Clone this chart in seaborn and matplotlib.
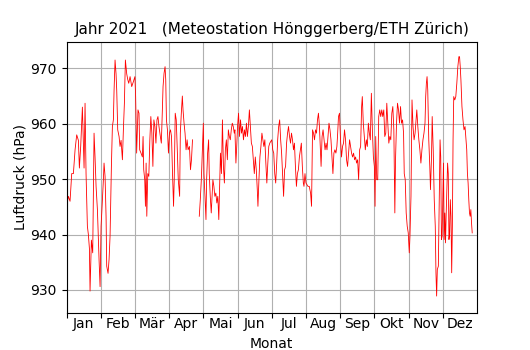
import numpy as np
import pandas as pd
import matplotlib
matplotlib.use("Agg")
import matplotlib.pyplot as plt
import seaborn as sns

# Month labels (x axis: fractional month position, 0 = 1 Jan, 12 = end of Dec)
monate = ["Jan", "Feb", "Mär", "Apr", "Mai", "Jun", "Jul", "Aug", "Sep", "Okt", "Nov", "Dez"]
y_ticks = [930, 940, 950, 960, 970]

# Segment A: 1 Jan - ca. 11 Apr
monat_a = [0.0, 0.055, 0.103, 0.152, 0.201, 0.250, 0.298, 0.347, 0.376, 0.415,
           0.464, 0.513, 0.542, 0.571, 0.610, 0.639, 0.669, 0.688, 0.727, 0.766,
           0.805, 0.834, 0.864, 0.903, 0.922, 0.951, 0.981, 1.010, 1.039, 1.078,
           1.097, 1.127, 1.156, 1.175, 1.214, 1.244, 1.273, 1.312, 1.341, 1.370,
           1.390, 1.419, 1.448, 1.468, 1.497, 1.536, 1.565, 1.595, 1.634, 1.663,
           1.692, 1.721, 1.760, 1.789, 1.819, 1.858, 1.906, 1.955,
           2.000, 2.020, 2.050, 2.089, 2.119, 2.139, 2.178, 2.218, 2.238, 2.257,
           2.287, 2.307, 2.327, 2.347, 2.376, 2.406, 2.436, 2.465, 2.495, 2.525,
           2.554, 2.584, 2.614, 2.644, 2.673, 2.703, 2.743, 2.772, 2.802, 2.822,
           2.851, 2.881, 2.901, 2.921, 2.950, 2.980, 3.010, 3.040, 3.069, 3.099,
           3.129, 3.149, 3.178, 3.208, 3.238, 3.267, 3.307, 3.327, 3.356, 3.386,
           3.406, 3.436, 3.465, 3.495, 3.525, 3.554, 3.594, 3.624, 3.653, 3.683]
druck_a = [945.1, 946.9, 946.0, 951.0, 951.0, 955.3, 958.0, 957.0, 952.0, 956.0,
           963.0, 952.0, 963.7, 951.0, 941.5, 940.0, 937.5, 929.8, 939.0, 936.7,
           958.3, 954.0, 948.7, 944.5, 941.0, 935.5, 930.6, 941.5, 945.0, 949.9,
           952.9, 950.5, 943.3, 934.3, 933.0, 935.5, 939.7, 952.3, 959.5, 960.7,
           966.0, 971.5, 969.0, 966.0, 958.9, 957.7, 955.9, 957.0, 953.5, 959.0,
           963.7, 971.5, 969.0, 968.0, 967.3, 968.5, 966.7, 967.6,
           968.5, 965.0, 954.7, 962.5, 961.9, 955.3, 954.7, 954.0, 957.7, 951.7,
           949.9, 945.1, 952.9, 943.3, 951.0, 950.5, 957.1, 961.3, 958.3, 952.3,
           960.7, 959.5, 956.5, 960.7, 961.3, 959.5, 957.7, 956.5, 962.5, 966.7,
           969.1, 970.3, 967.9, 960.7, 958.9, 954.7, 958.3, 958.9, 957.7, 951.0,
           945.1, 949.9, 961.9, 960.7, 955.3, 949.9, 946.9, 958.3, 961.9, 965.0,
           962.5, 960.1, 958.3, 955.3, 957.1, 955.3, 955.9, 951.7, 953.5, 957.1]

# Segment B: ca. 27 Apr - 27 Dez
monat_b = [3.881, 3.911, 3.941,
           4.000, 4.019, 4.048, 4.077, 4.096, 4.125, 4.154, 4.173, 4.202, 4.231,
           4.250, 4.279, 4.308, 4.337, 4.365, 4.394, 4.423, 4.452, 4.471, 4.500,
           4.529, 4.558, 4.587, 4.615, 4.644, 4.673, 4.702, 4.731, 4.760, 4.788,
           4.817, 4.846, 4.875, 4.904, 4.923, 4.952, 4.971, 5.000, 5.029, 5.058,
           5.087, 5.115, 5.144, 5.173, 5.202, 5.231, 5.260, 5.288, 5.317, 5.346,
           5.375, 5.404, 5.433, 5.462, 5.490, 5.519, 5.548, 5.577, 5.596, 5.625,
           5.654, 5.683, 5.712, 5.740, 5.769, 5.798, 5.827, 5.856, 5.885, 5.913,
           5.942,
           6.000, 6.029, 6.058, 6.087, 6.115, 6.144, 6.173, 6.202, 6.231, 6.260,
           6.288, 6.317, 6.346, 6.375, 6.404, 6.433, 6.462, 6.490, 6.519, 6.548,
           6.577, 6.606, 6.635, 6.663, 6.692, 6.721, 6.750, 6.779, 6.808, 6.837,
           6.865, 6.894, 6.923, 6.942, 6.971, 7.000, 7.058, 7.096, 7.135, 7.163,
           7.192, 7.221, 7.250, 7.279, 7.308, 7.337, 7.365, 7.394, 7.423, 7.442,
           7.471, 7.500, 7.529, 7.558, 7.587, 7.615, 7.644, 7.673, 7.702, 7.731,
           7.760, 7.788, 7.817, 7.846, 7.875, 7.904,
           7.922, 7.951, 7.980, 8.010, 8.039, 8.069, 8.098, 8.127, 8.157, 8.186,
           8.216, 8.245, 8.275, 8.304, 8.333, 8.363, 8.392, 8.422, 8.451, 8.480,
           8.510, 8.539, 8.569, 8.598, 8.627, 8.647, 8.676, 8.706, 8.735, 8.765,
           8.794, 8.824, 8.853, 8.882, 8.912, 8.941, 8.971, 9.000, 9.020, 9.039,
           9.069, 9.098, 9.127, 9.157, 9.186, 9.216, 9.245, 9.275, 9.304, 9.333,
           9.363, 9.392, 9.422, 9.451, 9.480, 9.510, 9.539, 9.569, 9.598, 9.618,
           9.647, 9.676, 9.706, 9.735, 9.765, 9.794, 9.824, 9.853, 9.873, 9.902,
           9.930, 9.960, 9.990, 10.020, 10.040, 10.070, 10.100, 10.130, 10.160, 10.190,
           10.220, 10.240, 10.270, 10.300, 10.330, 10.360, 10.390, 10.420, 10.450, 10.480,
           10.500, 10.520, 10.540, 10.560, 10.590, 10.620, 10.640, 10.670, 10.690, 10.720,
           10.750, 10.780, 10.800, 10.820, 10.840, 10.870, 10.900, 10.920, 10.940, 10.960,
           10.980, 11.000, 11.020, 11.040, 11.060, 11.080, 11.100, 11.120, 11.140, 11.160,
           11.180, 11.200, 11.220, 11.240, 11.260, 11.280, 11.300, 11.320, 11.350, 11.380,
           11.410, 11.440, 11.470, 11.490, 11.510, 11.530, 11.560, 11.590, 11.620, 11.650,
           11.680, 11.700, 11.720, 11.740, 11.760, 11.780, 11.800, 11.820, 11.840, 11.860]
druck_b = [943.3, 946.3, 949.9,
           960.1, 951.0, 946.9, 942.7, 949.9, 954.7, 957.1, 951.0, 946.9, 943.9,
           946.3, 949.9, 948.7, 946.9, 947.5, 945.7, 946.9, 942.7, 947.5, 954.7,
           951.0, 960.7, 952.3, 949.3, 955.3, 957.1, 953.5, 958.9, 957.7, 957.1,
           958.9, 960.1, 959.5, 958.3, 958.9, 952.9, 955.3, 959.5, 961.9, 957.7,
           960.7, 958.3, 959.5, 957.1, 958.9, 957.7, 960.1, 957.7, 959.5, 962.5,
           959.5, 956.5, 955.9, 953.5, 951.0, 954.0, 951.7, 948.1, 945.1, 949.9,
           954.0, 955.9, 958.3, 957.1, 955.9, 957.1, 952.9, 949.3, 952.9, 955.9,
           956.5,
           957.1, 955.3, 954.7, 951.0, 949.3, 952.9, 957.1, 959.5, 960.7, 957.1,
           954.7, 951.0, 946.9, 951.7, 952.3, 956.5, 958.3, 959.5, 957.7, 956.5,
           958.3, 957.1, 955.3, 956.5, 952.3, 948.7, 951.0, 951.7, 954.0, 955.3,
           956.5, 952.3, 949.3, 948.7, 951.0, 949.3, 948.7, 948.7, 947.5, 945.1,
           958.9, 958.3, 957.1, 958.9, 958.3, 960.7, 961.9, 959.5, 955.3, 952.3,
           957.7, 958.9, 957.1, 955.3, 956.5, 955.3, 957.7, 960.1, 958.9, 957.1,
           954.0, 951.0, 954.7, 955.3, 954.7, 955.9,
           957.7, 961.3, 961.9, 957.1, 954.0, 955.9, 956.5, 958.9, 957.1, 953.5,
           952.3, 954.7, 957.1, 955.9, 954.7, 954.0, 954.7, 953.5, 954.0, 952.9,
           953.5, 949.9, 955.3, 955.9, 963.1, 964.9, 960.1, 957.7, 955.3, 957.1,
           955.9, 960.1, 958.3, 957.1, 965.5, 958.9, 954.0, 952.3, 945.1, 957.7,
           949.9, 949.9, 961.3, 962.5, 961.3, 962.5, 961.3, 962.5, 957.7, 958.3,
           963.7, 960.1, 956.5, 957.7, 957.1, 961.9, 963.1, 958.9, 943.9, 953.5,
           960.1, 963.7, 962.5, 960.1, 963.1, 960.1, 960.7, 958.3, 951.0, 949.9,
           943.9, 941.5, 940.3, 936.7, 939.7, 946.9, 964.3, 959.5, 957.1, 958.3,
           960.7, 962.5, 959.5, 957.1, 955.3, 952.9, 955.3, 957.1, 958.3, 960.1,
           964.9, 967.3, 968.5, 966.1, 957.1, 952.3, 948.1, 954.0, 961.3, 955.3,
           946.3, 941.5, 933.1, 928.9, 933.7, 934.3, 948.1, 957.1, 954.0, 939.1,
           939.7, 946.3, 952.9, 939.1, 943.9, 938.5, 943.9, 948.1, 952.9, 951.0,
           939.1, 940.3, 946.3, 943.3, 933.1, 941.5, 957.1, 964.9, 964.3, 964.9,
           967.3, 970.3, 972.1, 972.1, 970.3, 967.9, 963.1, 960.7, 958.9, 959.5,
           957.1, 955.3, 951.0, 949.3, 946.3, 943.9, 943.3, 944.5, 942.1, 940.3]

assert len(monat_a) == len(druck_a), (len(monat_a), len(druck_a))
assert len(monat_b) == len(druck_b), (len(monat_b), len(druck_b))

df = pd.concat([
    pd.DataFrame({"Monat": monat_a, "Luftdruck": druck_a, "abschnitt": 0}),
    pd.DataFrame({"Monat": monat_b, "Luftdruck": druck_b, "abschnitt": 1}),
], ignore_index=True)

fig = plt.figure(figsize=(5.3, 3.5), dpi=100)
ax = fig.add_axes([0.1255, 0.1066, 0.7745, 0.7726])
sns.lineplot(data=df, x="Monat", y="Luftdruck", units="abschnitt", estimator=None,
             color="red", lw=0.6, sort=False, ax=ax)

ax.set_xlim(0, 12)
ax.set_ylim(925.9, 974.7)
ax.set_xticks(range(12))
ax.set_xticklabels([])
ax.set_xticks(np.arange(12) + 0.5, minor=True)
ax.set_xticklabels(monate, minor=True)
ax.tick_params(axis="x", which="minor", length=0)
ax.set_yticks(y_ticks)
ax.grid(True, which="major")
ax.set_xlabel("Monat")
ax.set_ylabel("Luftdruck (hPa)", labelpad=2)
ax.set_title("Jahr 2021   (Meteostation Hönggerberg/ETH Zürich)", fontsize=11)

fig.savefig("out.png", dpi=100)
